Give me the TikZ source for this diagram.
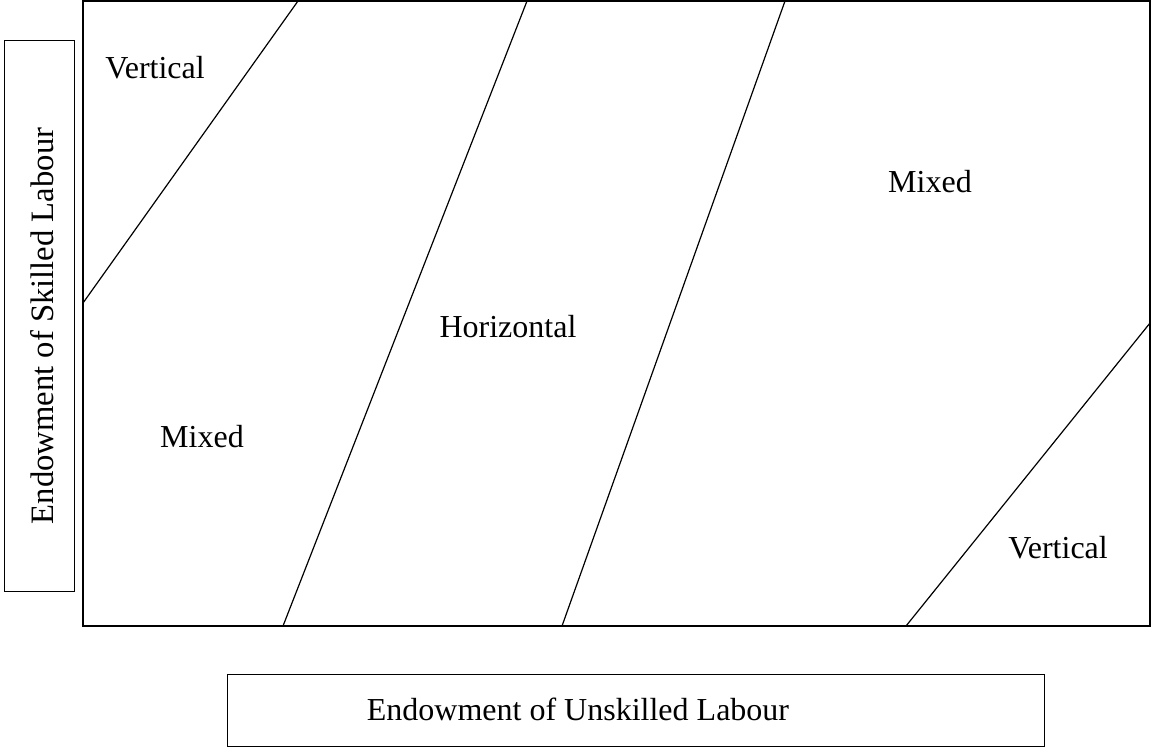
\documentclass[tikz,border=0pt]{standalone}
\usepackage{fontspec}
\setmainfont{Liberation Serif}
\begin{document}
\begin{tikzpicture}[x=0.75pt,y=-0.75pt,
  frame/.style={draw=black,line width=0.9pt},
  divider/.style={draw=black,line width=0.9pt},
  lbl/.style={font=\fontsize{24}{28}\selectfont,inner sep=0pt}]
\useasboundingbox (0,0) rectangle (1151,747);
% main box
\coordinate (tl) at (83,1);
\coordinate (br) at (1150,626);
\draw[frame] (tl) rectangle (br);
% side boxes
\node[frame,minimum width=70.5*0.75pt,minimum height=551*0.75pt,inner sep=0pt,anchor=north west] (yaxis) at (3.5,40) {};
\node[lbl,rotate=90,font=\fontsize{24.5}{28}\selectfont] (ylab) at (42,326) {Endowment of Skilled Labour};
\node[frame,minimum width=817*0.75pt,minimum height=72*0.75pt,inner sep=0pt,anchor=north west] (xaxis) at (226.5,674) {};
\node[lbl] (xlab) at (578,709) {Endowment of Unskilled Labour};
% dividing lines
\coordinate (a1) at (83,303);
\coordinate (a2) at (298,1);
\coordinate (b1) at (283,626);
\coordinate (b2) at (527,1);
\coordinate (c1) at (562,626);
\coordinate (c2) at (785,1);
\coordinate (d1) at (906,626);
\coordinate (d2) at (1150,323);
\draw[divider] (a1) -- (a2);
\draw[divider] (b1) -- (b2);
\draw[divider] (c1) -- (c2);
\draw[divider] (d1) -- (d2);
% region labels
\node[lbl] (v1) at (155,68) {Vertical};
\node[lbl] (m1) at (930,182) {Mixed};
\node[lbl] (h) at (508,327) {Horizontal};
\node[lbl] (m2) at (202,437) {Mixed};
\node[lbl] (v2) at (1058,548) {Vertical};
\end{tikzpicture}
\end{document}
